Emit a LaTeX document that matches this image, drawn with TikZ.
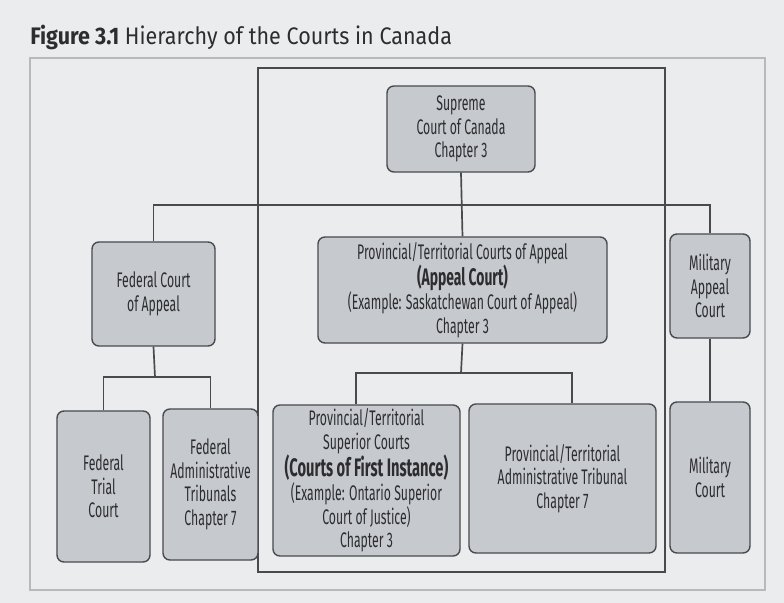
\documentclass[tikz,border=0pt]{standalone}
\usepackage{fontspec}
\setmainfont{Fira Sans}
\newfontfamily\courtfont[FakeStretch=0.58]{Fira Sans}
\newfontfamily\titlefont[FakeStretch=0.9]{Fira Sans}
\definecolor{pagebg}{RGB}{234,236,238}
\definecolor{boxfill}{RGB}{198,201,205}
\definecolor{boxline}{RGB}{72,74,78}
\definecolor{inktext}{RGB}{45,45,48}

\begin{document}
\begin{tikzpicture}[x=0.025cm,y=-0.025cm,
  court/.style={draw=boxline, line width=1pt, rounded corners=5pt, fill=boxfill,
    align=center, inner sep=0pt, text=inktext,
    font=\courtfont\fontsize{15}{16.8}\selectfont},
  link/.style={draw=boxline, line width=1.2pt}]
\useasboundingbox[fill=pagebg] (0,0) rectangle (784,603);

\node[anchor=west, inner sep=0pt, text=inktext, font=\titlefont\fontsize{17}{20}\selectfont] (title) at (30,37)
  {\textbf{Figure 3.1} Hierarchy of the Courts in Canada};

% frames
\draw[gray!55, line width=0.8pt] (30,58) rectangle (765,590);
\draw[boxline, line width=1.6pt] (258,68) rectangle (665,572);

% courts
\node[court, minimum width=3.7cm, minimum height=2.15cm] (sup) at (461,129)
  {Supreme\\Court of Canada\\Chapter 3};
\node[court, minimum width=7.225cm, minimum height=2.65cm] (pca) at (462.5,290)
  {Provincial/Territorial Courts of Appeal\\
   {\bfseries\fontsize{17}{16.8}\selectfont(Appeal Court)}\\
   (Example: Saskatchewan Court of Appeal)\\Chapter 3};
\node[court, minimum width=3.075cm, minimum height=2.6cm] (fca) at (153.5,294)
  {Federal Court\\of Appeal};
\node[court, minimum width=2cm, minimum height=2.6cm] (mac) at (710,286)
  {Military\\Appeal\\Court};
\node[court, minimum width=2.325cm, minimum height=3.775cm] (ftc) at (103.5,486.5)
  {Federal\\Trial\\Court};
\node[court, minimum width=2.375cm, minimum height=3.775cm] (fat) at (210.5,484.5)
  {Federal\\Administrative\\Tribunals\\Chapter 7};
\node[court, minimum width=4.675cm, minimum height=3.775cm] (pts) at (366.5,480.5)
  {Provincial/Territorial\\Superior Courts\\
   {\bfseries\fontsize{18}{16.8}\selectfont(Courts of First Instance)}\\
   (Example: Ontario Superior\\Court of Justice)\\Chapter 3};
\node[court, minimum width=4.675cm, minimum height=3.725cm] (pta) at (562.5,478.5)
  {Provincial/Territorial\\Administrative Tribunal\\Chapter 7};
\node[court, minimum width=2cm, minimum height=3.775cm] (mc) at (710,477.5)
  {Military\\Court};

% connectors
\coordinate (bar) at (461,205);
\coordinate (fbar) at (155,377);
\coordinate (pbar) at (461,373);
\draw[link] (sup.south) -- (pca.north);
\draw[link] (fca.north) |- (bar) -| (mac.north);
\draw[link] (fca.south) -- (fbar);
\draw[link] (ftc.north) |- (fbar) -| (fat.north);
\draw[link] (pca.south) -- (pbar);
\draw[link] ([xshift=-0.27cm]pts.north) |- (pbar) -| ([xshift=0.24cm]pta.north);
\draw[link] (mac.south) -- (mc.north);

\end{tikzpicture}
\end{document}
